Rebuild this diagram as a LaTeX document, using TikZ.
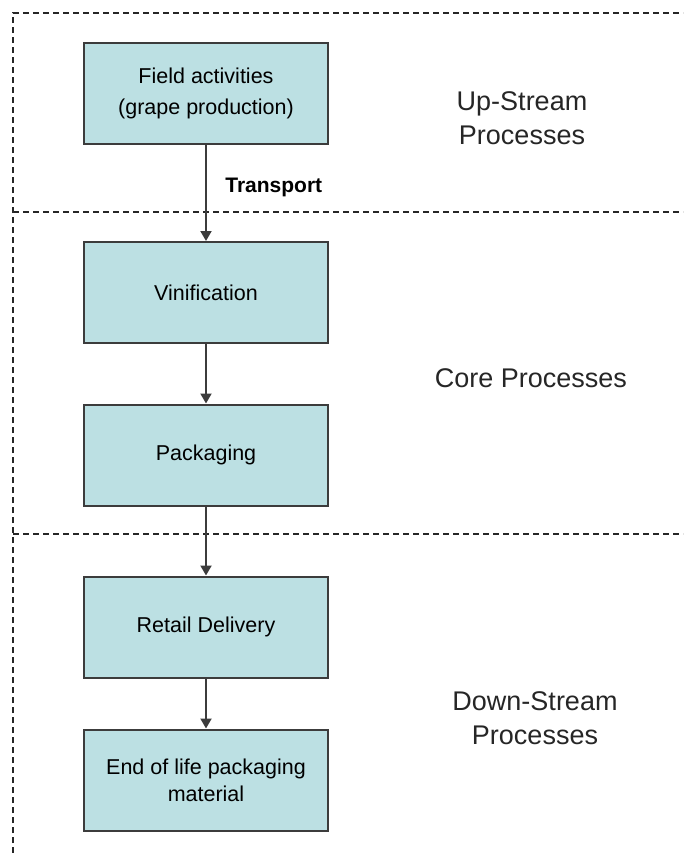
\documentclass[tikz,border=0pt]{standalone}
\usepackage{fontspec}
\setmainfont{Liberation Sans}
\usetikzlibrary{arrows.meta}
\definecolor{boxfill}{HTML}{BCE0E3}
\definecolor{boxline}{HTML}{3C3C3C}
\tikzset{
  process/.style={draw=boxline, line width=2pt, fill=boxfill, minimum width=244pt,
    minimum height=101pt, align=center, inner sep=0pt,
    font=\fontsize{21.5}{27}\selectfont},
  flow/.style={draw=boxline, line width=2pt, -{Triangle[width=11pt,length=10pt]}},
  stage/.style={align=center, text=black!85, font=\fontsize{27}{34}\selectfont},
  border/.style={draw=black!85, line width=1.6pt, dash pattern=on 6pt off 4pt}
}
\begin{document}
\begin{tikzpicture}[x=1pt, y=-1pt]
\useasboundingbox (0,0) rectangle (683,853);
\draw[border] (13,853) -- (13,13) -- (683,13);
\draw[border] (13,212) -- (683,212);
\draw[border] (13,534) -- (683,534);

\node[process] (field) at (206,93.5) {Field activities\\[4pt](grape production)};
\node[process] (vini) at (206,292.5) {Vinification};
\node[process] (pack) at (206,455) {Packaging};
\node[process] (retail) at (206,627) {Retail Delivery};
\node[process] (eol) at (206,780) {End of life packaging\\material};

\node[stage] (up) at (522,118) {Up-Stream\\Processes};
\node[stage] (core) at (531,378) {Core Processes};
\node[stage] (down) at (535,718) {Down-Stream\\Processes};

\draw[flow] (field) -- node[pos=0.44, right=15pt, font=\fontsize{21}{24}\selectfont\bfseries] (trans) {Transport} (vini);
\draw[flow] (vini) -- (pack);
\draw[flow] (pack) -- (retail);
\draw[flow] (retail) -- (eol);
\end{tikzpicture}
\end{document}
